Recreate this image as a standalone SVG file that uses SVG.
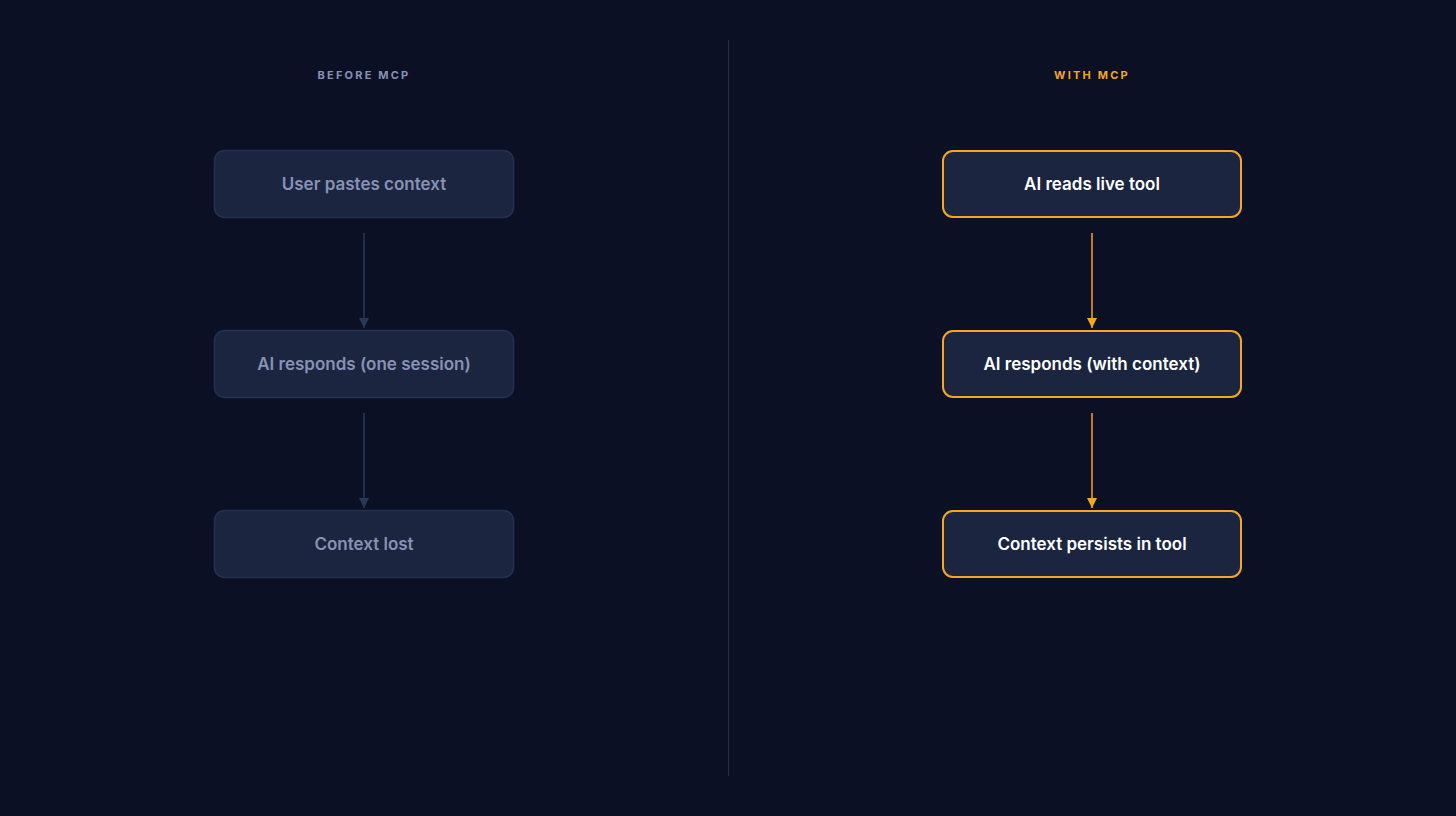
<svg xmlns="http://www.w3.org/2000/svg" width="1456" height="816" viewBox="0 0 1456 816">
<style>
.hd{font-family:Inter,"Liberation Sans",sans-serif;font-size:11px;font-weight:700;letter-spacing:2.2px;text-anchor:middle}
.lbl{font-family:Inter,"Liberation Sans",sans-serif;font-size:17px;font-weight:600;text-anchor:middle}
.bx{fill:#1b2540;stroke:#243152;stroke-width:1.5}
.ox{fill:#1b2540;stroke:#f5a623;stroke-width:2}
.bt{fill:#8792b4}
.wt{fill:#ffffff}
</style>
<defs>
<marker id="ag" viewBox="0 0 10 10" refX="10" refY="5" markerWidth="15" markerHeight="10" markerUnits="userSpaceOnUse" orient="auto"><path d="M0,0L10,5L0,10z" fill="#2a3656"/></marker>
<marker id="ao" viewBox="0 0 10 10" refX="10" refY="5" markerWidth="15" markerHeight="10" markerUnits="userSpaceOnUse" orient="auto"><path d="M0,0L10,5L0,10z" fill="#f5a623"/></marker>
</defs>
<rect width="1456" height="816" fill="#0c1024"/>
<line x1="728.5" y1="40" x2="728.5" y2="776" stroke="#262e48" stroke-width="1"/>
<text class="hd" x="364" y="79" fill="#8792b4">BEFORE MCP</text>
<text class="hd" x="1092" y="79" fill="#f5a623">WITH MCP</text>
<g id="connectors">
<line x1="364" y1="233" x2="364" y2="328" stroke="#2a3656" stroke-width="1.5" marker-end="url(#ag)"/>
<line x1="364" y1="413" x2="364" y2="508" stroke="#2a3656" stroke-width="1.5" marker-end="url(#ag)"/>
<line x1="1092" y1="233" x2="1092" y2="328" stroke="#f5a623" stroke-width="1.5" marker-end="url(#ao)"/>
<line x1="1092" y1="413" x2="1092" y2="508" stroke="#f5a623" stroke-width="1.5" marker-end="url(#ao)"/>
</g>
<g id="b1"><rect class="bx" x="214.5" y="150.5" width="299" height="67" rx="10"/><text class="lbl bt" x="364" y="190">User pastes context</text></g>
<g id="b2"><rect class="bx" x="214.5" y="330.5" width="299" height="67" rx="10"/><text class="lbl bt" x="364" y="370">AI responds (one session)</text></g>
<g id="b3"><rect class="bx" x="214.5" y="510.5" width="299" height="67" rx="10"/><text class="lbl bt" x="364" y="550">Context lost</text></g>
<g id="w1"><rect class="ox" x="943" y="151" width="298" height="66" rx="10"/><text class="lbl wt" x="1092" y="190">AI reads live tool</text></g>
<g id="w2"><rect class="ox" x="943" y="331" width="298" height="66" rx="10"/><text class="lbl wt" x="1092" y="370">AI responds (with context)</text></g>
<g id="w3"><rect class="ox" x="943" y="511" width="298" height="66" rx="10"/><text class="lbl wt" x="1092" y="550">Context persists in tool</text></g>
</svg>
